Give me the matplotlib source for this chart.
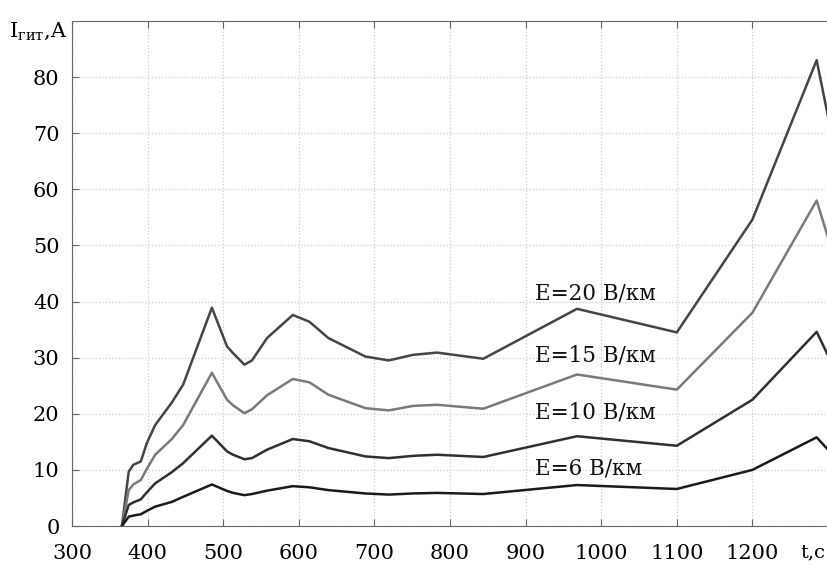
import matplotlib
matplotlib.use("Agg")
import matplotlib.pyplot as plt

t = [366, 375, 381, 391, 399, 410, 432, 447, 485, 505, 513, 528, 538, 558, 592, 614, 639,
     688, 719, 751, 783, 844, 968, 1100, 1200, 1285, 1300]
e20 = [0, 9.7, 10.9, 11.5, 14.8, 18.0, 22.0, 25.2, 38.9, 32.0, 30.8, 28.75, 29.5, 33.5, 37.6,
       36.4, 33.5, 30.2, 29.5, 30.5, 30.9, 29.8, 38.7, 34.5, 54.6, 83.0, 73.0]
e15 = [0, 6.4, 7.4, 8.2, 10.2, 12.7, 15.5, 18.0, 27.3, 22.5, 21.5, 20.1, 20.8, 23.3, 26.2,
       25.6, 23.4, 21.0, 20.6, 21.4, 21.6, 20.9, 27.0, 24.3, 38.0, 58.0, 51.4]
e10 = [0, 3.75, 4.2, 4.75, 6.0, 7.6, 9.6, 11.2, 16.1, 13.3, 12.7, 11.9, 12.1, 13.6, 15.5,
       15.1, 13.9, 12.4, 12.1, 12.5, 12.7, 12.3, 16.0, 14.3, 22.5, 34.6, 30.4]
e6 = [0, 1.67, 1.85, 2.1, 2.7, 3.45, 4.3, 5.2, 7.4, 6.25, 5.9, 5.5, 5.7, 6.3, 7.1,
      6.9, 6.4, 5.8, 5.6, 5.8, 5.9, 5.7, 7.3, 6.6, 10.0, 15.8, 13.6]
labels = ["E=20 В/км", "E=15 В/км", "E=10 В/км", "E=6 В/км"]
label_y = [41.5, 30.3, 20.2, 10.2]
xticks = [300, 400, 500, 600, 700, 800, 900, 1000, 1100, 1200]
yticks = [0, 10, 20, 30, 40, 50, 60, 70, 80]

plt.rcParams['font.family'] = ['DejaVu Serif']
plt.rcParams['mathtext.fontset'] = 'dejavuserif'

fig = plt.figure(figsize=(8.28, 5.65), dpi=100)
ax = fig.add_axes([0.087, 0.069, 0.913, 0.894])

colors = ['#454545', '#7a7a7a', '#303030', '#1a1a1a']
for ys, c in zip([e20, e15, e10, e6], colors):
    ax.plot(t, ys, color=c, lw=1.8, clip_on=True)

for lab, ly in zip(labels, label_y):
    ax.text(912, ly, lab, fontsize=15.5, ha='left', va='center', color='#111111')

ax.set_xlim(300, 1300)
ax.set_ylim(0, 90)
ax.set_xticks(xticks)
ax.set_yticks(yticks)
ax.tick_params(direction='in', length=5, top=True, bottom=True, left=True, right=False,
               labeltop=False, labelsize=15, color='#666666')
ax.tick_params(axis='y', pad=9)
ax.tick_params(axis='x', pad=13)
ax.grid(True, linestyle=':', color='#cccccc', lw=0.9)
for s in ['left', 'bottom', 'top']:
    ax.spines[s].set_color('#666666')
ax.spines['right'].set_visible(False)

fig.text(0.997, 0.023, "t,c", fontsize=14, ha='right', va='center')
fig.text(0.011, 0.945, r"I$_{\mathregular{гит}}$,A", fontsize=15, ha='left', va='center')

fig.savefig("out.png", dpi=100)
